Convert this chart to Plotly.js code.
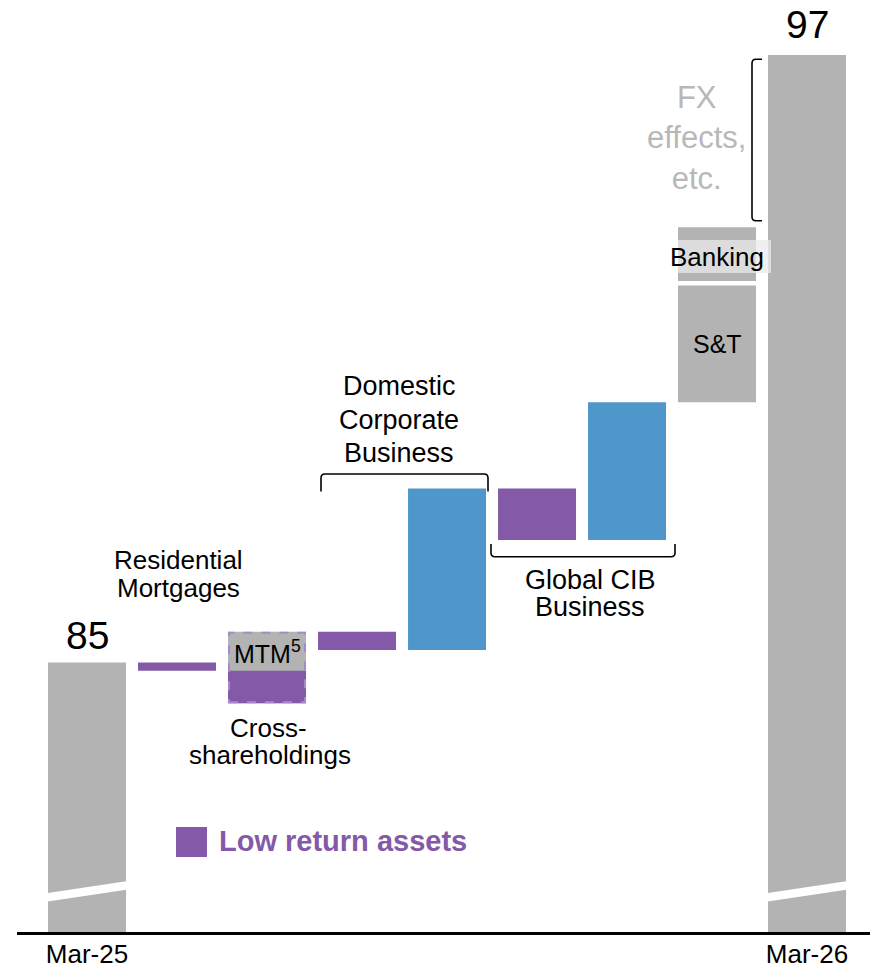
<!DOCTYPE html>
<html><head><meta charset="utf-8">
<script src="https://cdn.plot.ly/plotly-3.0.1.min.js"></script>
<style>html,body{margin:0;padding:0;background:#fff;}#chart{width:870px;height:967px;}</style>
</head><body><div id="chart"></div>
<script>
// ---------------- data ----------------
const columnNames = ['Mar-25','Residential Mortgages','Cross-shareholdings','Domestic Corporate (low return)','Domestic Corporate Business','Global CIB (low return)','Global CIB Business','S&T / Banking','Mar-26'];
const stepNames   = ['Mar-25','Residential Mortgages','Cross-shareholdings','MTM','Domestic Corporate (low return)','Domestic Corporate Business','Global CIB (low return)','Global CIB Business','S&T','Banking','FX effects, etc.','Mar-26'];
const stepColumns = ['Mar-25','Residential Mortgages','Cross-shareholdings','Cross-shareholdings','Domestic Corporate (low return)','Domestic Corporate Business','Global CIB (low return)','Global CIB Business','S&T / Banking','S&T / Banking',null,'Mar-26'];
const stepValues  = [85, -0.16, -0.64, 1.41, -0.36, 3.19, -1.02, 2.72, 2.35, 1.11, 3.40, 97];
const stepKinds   = ['total','low','low','mtm','low','growth','low','growth','other','other','fx','total'];
const tickLabels  = ['Mar-25','Mar-26'];
const totalLabels = ['85','97'];
const legendLabel = 'Low return assets';

// ---------------- layout constants ----------------
const W = 870, H = 967;
const M = {l:17, r:0, t:0, b:35};
const PW = W - M.l - M.r, PH = H - M.t - M.b;
const xRange = [-0.778, -0.778 + PW/90];
const yRange = [79.68, 98.086];
const barW = 78/90;
const FONT = 'Liberation Sans, Arial, Helvetica, sans-serif';
const GRAY = '#b3b3b3', PURPLE = '#845aa8', BLUE = '#4f97cb';

// pixel -> data helpers (for decorations / label placement)
const X = px => xRange[0] + (px - M.l) * (xRange[1]-xRange[0]) / PW;
const Y = py => yRange[0] + (M.t + PH - py) * (yRange[1]-yRange[0]) / PH;
const pxPerUnitY = PH / (yRange[1]-yRange[0]);

// ---------------- waterfall computation ----------------
let level = 0;
const steps = stepNames.map((n, i) => {
  const k = stepKinds[i], v = stepValues[i];
  let base, size;
  if (k === 'total') { base = yRange[0]; size = v - yRange[0]; level = v; }
  else { base = level; size = v; level += v; }
  return {name:n, col: stepColumns[i] ? columnNames.indexOf(stepColumns[i]) : null, base, size, kind:k, start: k==='total'? v : base, end: level};
});

function traceFor(kinds, color) {
  const s = steps.filter(d => kinds.includes(d.kind) && d.col !== null);
  return {type:'bar', x:s.map(d=>d.col), y:s.map(d=>d.size), base:s.map(d=>d.base),
    width:barW, marker:{color:color, line:{width:0}}, hoverinfo:'skip', showlegend:false};
}
const data = [
  traceFor(['total','mtm','other'], GRAY),
  traceFor(['low'], PURPLE),
  traceFor(['growth'], BLUE)
];

const get = n => steps[stepNames.indexOf(n)];
const shapes = [];
const annotations = [];

// broken-axis marks on total bars
steps.filter(d => d.kind === 'total').forEach(d => {
  const cx = M.l + (d.col - xRange[0]) * 90;
  const l = cx - 41, r = cx + 41;
  const path = `M ${X(l)},${Y(893.2)} L ${X(r)},${Y(881.0)} L ${X(r)},${Y(889.6)} L ${X(l)},${Y(901.8)} Z`;
  shapes.push({type:'path', xref:'x', yref:'y', path, fillcolor:'#ffffff', line:{width:0}, layer:'above'});
});

// total value labels
steps.filter(d => d.kind === 'total').forEach((d, i) => {
  annotations.push({x:d.col, y:d.end, xref:'x', yref:'y', text:totalLabels[i], showarrow:false,
    yanchor:'middle', yshift: i===0 ? 27 : 30, font:{family:FONT, size:39, color:'#000'}});
});

// dashed outline around cross-shareholdings / MTM
(() => {
  const c = get('Cross-shareholdings'), m = get('MTM');
  const lo = Math.min(c.end, m.start), hi = Math.max(c.base, m.end);
  const inset = 1 / pxPerUnitY, insetX = 1/90;
  shapes.push({type:'rect', xref:'x', yref:'y', x0:c.col - barW/2 + insetX, x1:c.col + barW/2 - insetX,
    y0: lo + inset, y1: hi - inset, line:{color:'#a68bcc', width:2, dash:'dash'}, fillcolor:'rgba(0,0,0,0)', layer:'above'});
})();

// separator between S&T and Banking
(() => {
  const s = get('S&T');
  const col = s.col;
  shapes.push({type:'line', xref:'x', yref:'y', x0:col - barW/2 - 0.02, x1:col + barW/2 + 0.02, y0:s.end, y1:s.end,
    line:{color:'#ffffff', width:4.5}, layer:'above'});
  // light label box behind "Banking"
  shapes.push({type:'rect', xref:'x', yref:'y', x0:col - barW/2, x1:X(771), y0:Y(273), y1:Y(240),
    fillcolor:'rgba(235,235,235,0.74)', line:{width:0}, layer:'above'});
})();

// brackets
const pathFrom = pts => pts.map((p, i) => {
  if (p[0] === 'Q') return `Q ${X(p[1])},${Y(p[2])} ${X(p[3])},${Y(p[4])}`;
  return `${i===0?'M':'L'} ${X(p[0])},${Y(p[1])}`;
}).join(' ');
const br = {color:'#000', width:1.6};
shapes.push({type:'path', xref:'x', yref:'y', layer:'above', line:br, path: pathFrom([
  [321,491.5],[321,478],['Q',321,474,325,474],[484,474],['Q',488,474,488,478],[488,491.5]])});
shapes.push({type:'path', xref:'x', yref:'y', layer:'above', line:br, path: pathFrom([
  [491,544],[491,552.7],['Q',491,556.7,495,556.7],[671,556.7],['Q',675,556.7,675,552.7],[675,544]])});
shapes.push({type:'path', xref:'x', yref:'y', layer:'above', line:br, path: pathFrom([
  [762,59.3],[756,59.3],['Q',752,59.3,752,63.3],[752,216.7],['Q',752,220.7,756,220.7],[762,220.7]])});

// legend square
shapes.push({type:'rect', xref:'x', yref:'y', x0:X(176), x1:X(207), y0:Y(857), y1:Y(827),
  fillcolor:PURPLE, line:{width:0}, layer:'above'});

// text labels
const lab = (text, px, py, size, opts={}) => annotations.push(Object.assign({
  x:X(px), y:Y(py), xref:'x', yref:'y', text, showarrow:false, xanchor:'center', yanchor:'middle',
  font:{family:FONT, size, color:'#000'}}, opts));
lab('Residential', 178, 560, 26);
lab('Mortgages', 178, 588, 26);
lab('Cross-', 268, 727.5, 26);
lab('shareholdings', 270, 754.5, 26);
lab('Domestic', 399, 386, 27);
lab('Corporate', 399, 419.5, 27);
lab('Business', 399, 453, 27);
lab('Global CIB', 590, 580, 27);
lab('Business', 590, 607, 27);
lab('MTM<sup>5</sup>', 267, 652, 25);
lab('S&amp;T', 717, 344, 25);
lab('Banking', 717, 256.5, 26);
lab('FX<br>effects,<br>etc.', 696, 138, 31, {font:{family:FONT, size:31, color:'#b8b8b8'}});
lab('<b>' + legendLabel + '</b>', 217, 841, 29, {xanchor:'left', font:{family:FONT, size:29, color:PURPLE}});

const layout = {
  width:W, height:H, margin:M, paper_bgcolor:'#fff', plot_bgcolor:'#fff',
  barmode:'overlay', showlegend:false,
  font:{family:FONT, color:'#000'},
  xaxis:{range:xRange, tickvals:[columnNames.indexOf(tickLabels[0]), columnNames.indexOf(tickLabels[1])], ticktext:tickLabels,
    showline:true, linecolor:'#000', linewidth:2.5, ticks:'', showgrid:false, zeroline:false,
    ticklabelstandoff:-3,
    tickfont:{family:FONT, size:26, color:'#000'}, fixedrange:true},
  yaxis:{range:yRange, visible:false, showgrid:false, zeroline:false, fixedrange:true},
  shapes, annotations
};
Plotly.newPlot('chart', data, layout, {displayModeBar:false, staticPlot:true});
</script></body></html>
